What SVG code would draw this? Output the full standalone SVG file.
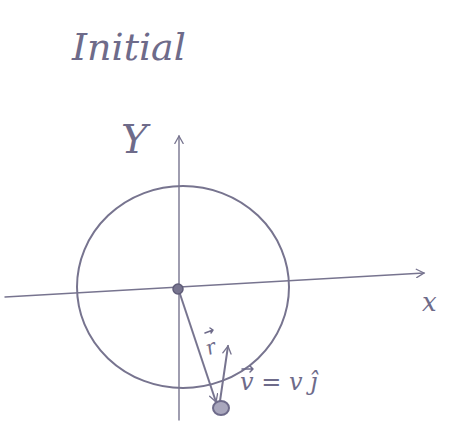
<svg xmlns="http://www.w3.org/2000/svg" width="453" height="433" viewBox="0 0 453 433">
  <defs>
    <style>
      .ink { fill: none; stroke: #77748f; stroke-linecap: round; stroke-linejoin: round; }
      .thin { stroke-width: 1.4; }
      .med { stroke-width: 2; }
      .hand { fill: #6e6b8a; font-family: "DejaVu Serif", "Liberation Serif", serif; font-style: italic; }
      .vec { fill: none; stroke: #6e6b8a; stroke-width: 1.5; stroke-linecap: round; stroke-linejoin: round; }
    </style>
    <marker id="arr" viewBox="0 0 12 12" refX="10" refY="6" markerWidth="10" markerHeight="10" markerUnits="userSpaceOnUse" orient="auto">
      <path d="M1,1 L10,6 L1,11" fill="none" stroke="#77748f" stroke-width="1.6" stroke-linecap="round"/>
    </marker>
  </defs>
  <rect width="453" height="433" fill="#ffffff"/>

  <g id="title">
    <text class="hand" x="72" y="60" font-size="38">Initial</text>
  </g>

  <g id="circle">
    <ellipse class="ink med" cx="183" cy="287" rx="106" ry="101"/>
  </g>

  <g id="connectors">
    <!-- y axis -->
    <line class="ink thin" x1="179" y1="420" x2="179" y2="136" marker-end="url(#arr)"/>
    <!-- x axis -->
    <line class="ink thin" x1="5" y1="297" x2="424" y2="273" marker-end="url(#arr)"/>
    <!-- r vector -->
    <line class="ink med" x1="179" y1="291" x2="216" y2="402" marker-end="url(#arr)"/>
    <!-- v vector -->
    <line class="ink med" x1="220" y1="401" x2="228" y2="346" marker-end="url(#arr)"/>
  </g>

  <g id="origin">
    <circle cx="178" cy="289" r="5" fill="#77748f" stroke="#5f5c78" stroke-width="1.5"/>
  </g>

  <g id="ball">
    <ellipse cx="221" cy="408" rx="8" ry="7" fill="#a9a7bd" stroke="#6e6b8a" stroke-width="2"/>
  </g>

  <g id="labels">
    <text class="hand" x="121" y="153" font-size="40">Y</text>
    <text class="hand" x="422" y="311" font-size="26">x</text>
    <text class="hand" x="205" y="354" font-size="20" transform="rotate(-20 210 345)">r</text>
    <path class="vec" d="M205,333 L213,330 M210,328 L213,330 L211,333"/>
    <text class="hand" x="240" y="390" font-size="24">v = v ĵ</text>
    <path class="vec" d="M242,369 L253,369 M250,366 L253,369 L250,372"/>
  </g>
</svg>
